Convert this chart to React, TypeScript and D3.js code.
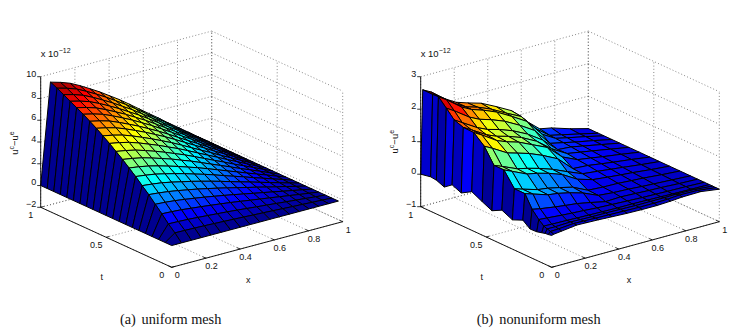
import React from 'react';
import * as d3 from 'd3';

const xTicks = [0, 0.2, 0.4, 0.6, 0.8, 1];
const tTicks = [0, 0.5, 1];
const zTicksA = [-2, 0, 2, 4, 6, 8, 10];
const zTicksB = [-1, 0, 1, 2, 3];

const xA = [0,.057,.115,.172,.229,.287,.344,.401,.459,.516,.574,.631,.688,.746,.803,.86,.918,.975];
const tA = [0,.05,.1,.15,.2,.25,.3,.35,.4,.45,.5,.55,.6,.65,.7,.75,.8,.85,.9,.95,1];
const uA = [
  [0,0,0,0,0,0,0,0,0,0,0,0,0,0,0,0,0,0],
  [0,.65,.63,.61,.58,.54,.5,.46,.42,.37,.33,.28,.23,.18,.14,.09,.05,0],
  [0,1.2,1.17,1.13,1.07,1,.93,.86,.78,.69,.6,.52,.43,.34,.26,.17,.08,0],
  [0,1.85,1.8,1.74,1.64,1.54,1.43,1.32,1.2,1.07,.93,.8,.67,.53,.4,.26,.13,0],
  [0,2.45,2.39,2.3,2.18,2.04,1.9,1.74,1.58,1.41,1.23,1.05,.88,.7,.52,.35,.17,0],
  [0,3.06,2.97,2.86,2.71,2.54,2.37,2.17,1.97,1.76,1.53,1.31,1.1,.87,.65,.44,.21,0],
  [0,3.61,3.51,3.39,3.21,3,2.8,2.57,2.33,2.08,1.81,1.55,1.3,1.03,.77,.51,.25,0],
  [0,4.17,4.05,3.91,3.7,3.47,3.23,2.96,2.69,2.4,2.09,1.79,1.5,1.18,.89,.59,.29,0],
  [0,4.68,4.55,4.38,4.15,3.89,3.62,3.32,3.02,2.69,2.35,2.01,1.68,1.33,1,.67,.33,0],
  [0,5.19,5.04,4.86,4.6,4.31,4.02,3.68,3.35,2.98,2.6,2.23,1.86,1.47,1.11,.74,.36,0],
  [0,5.65,5.49,5.29,5.01,4.7,4.37,4.01,3.65,3.25,2.84,2.43,2.03,1.6,1.21,.81,.4,0],
  [0,6.11,5.94,5.73,5.43,5.08,4.73,4.34,3.95,3.52,3.07,2.63,2.2,1.74,1.31,.87,.43,0],
  [0,6.53,6.35,6.12,5.8,5.43,5.05,4.64,4.22,3.76,3.28,2.81,2.35,1.85,1.4,.93,.46,0],
  [0,6.95,6.75,6.51,6.17,5.78,5.38,4.94,4.49,4,3.49,2.99,2.5,1.97,1.49,.99,.49,0],
  [0,7.32,7.11,6.86,6.49,6.08,5.66,5.2,4.72,4.21,3.67,3.14,2.63,2.08,1.56,1.04,.51,0],
  [0,7.69,7.47,7.2,6.82,6.39,5.95,5.46,4.96,4.42,3.86,3.3,2.76,2.18,1.64,1.1,.54,0],
  [0,8.01,7.79,7.51,7.11,6.66,6.2,5.69,5.17,4.61,4.02,3.44,2.88,2.27,1.71,1.14,.56,0],
  [0,8.33,8.1,7.81,7.4,6.93,6.45,5.92,5.38,4.8,4.19,3.58,3,2.37,1.78,1.19,.59,0],
  [0,8.66,8.42,8.12,7.69,7.2,6.7,6.15,5.59,4.98,4.35,3.72,3.11,2.46,1.85,1.23,.61,0],
  [0,8.98,8.73,8.42,7.97,7.47,6.95,6.38,5.8,5.17,4.51,3.86,3.23,2.55,1.92,1.28,.63,0],
  [0,9.26,9,8.68,8.22,7.7,7.17,6.58,5.98,5.33,4.65,3.98,3.33,2.63,1.98,1.32,.65,0],
];

const xB = [0,.012,.06,.15,.21,.28,.36,.45,.54,.63,.71,.78,.89,1];
const tB = [0,.025,.05,.076,.114,.165,.22,.3,.38,.456,.53,.61,.69,.76,.82,.88,.924,1];
const uB = [
  [-.02,0,.03,.09,.08,.07,.05,.03,.02,.02,.04,.07,.08,0],
  [-.04,.04,.05,.09,.08,.07,.06,.05,.04,.04,.05,.08,.07,0],
  [-.05,.07,.07,.09,.08,.07,.07,.06,.05,.05,.05,.06,.05,0],
  [-.08,.11,.1,.09,.08,.07,.06,.05,.05,.04,.03,.02,.01,0],
  [-.12,.24,.22,.18,.16,.14,.11,.09,.07,.05,.04,.03,.02,0],
  [-.13,.46,.41,.34,.3,.26,.18,.08,.1,.08,.06,.05,.02,0],
  [.04,.84,.76,.61,.57,.49,.37,.17,.13,.11,.08,.06,.03,0],
  [-.1,.84,.76,.62,.58,.5,.4,.18,.15,.14,.11,.09,.04,0],
  [.05,1.27,1.16,.95,.89,.79,.64,.37,.23,.18,.14,.11,.05,0],
  [-.11,1.27,1.17,.97,.9,.8,.66,.46,.27,.22,.17,.13,.06,0],
  [.03,1.72,1.59,1.32,1.23,1.12,.95,.72,.29,.26,.2,.15,.08,0],
  [.19,1.99,1.85,1.55,1.43,1.32,1.13,.92,.5,.29,.23,.17,.09,0],
  [0,2,1.86,1.58,1.45,1.35,1.2,.96,.6,.33,.26,.2,.1,0],
  [.12,2.1,1.95,1.67,1.53,1.43,1.28,1.05,.74,.32,.29,.22,.11,0],
  [-.06,2.35,2.2,1.88,1.73,1.62,1.46,1.21,.92,.4,.31,.23,.12,0],
  [.04,2.59,2.43,2.08,1.92,1.8,1.63,1.37,1.09,.57,.33,.25,.13,0],
  [.06,2.58,2.43,2.09,1.92,1.81,1.64,1.39,1.16,.65,.34,.26,.13,0],
  [0,2.58,2.45,2.1,1.92,1.8,1.68,1.45,1.2,.75,.4,.33,.15,0],
];

const jetStops = [0, 0.125, 0.375, 0.625, 0.875, 1];
const jetColors = ['#000090', '#0000ff', '#00ffff', '#ffff00', '#ff0000', '#800000'];
const sans = '"Liberation Sans", Arial, sans-serif';
const serif = '"Liberation Serif", "Times New Roman", serif';

type PanelProps = {
  xs: number[]; ts: number[]; u: number[][]; zTicks: number[];
  origin: [number, number]; xVec: [number, number]; tVec: [number, number]; zPx: number;
  zTitle: [number, number]; xTitle: [number, number]; tTitle: [number, number];
};

function Panel(p: PanelProps) {
  const zMin = p.zTicks[0];
  const zMax = p.zTicks[p.zTicks.length - 1];
  const sxx = d3.scaleLinear().domain([0, 1]).range([0, p.xVec[0]]);
  const sxy = d3.scaleLinear().domain([0, 1]).range([0, p.xVec[1]]);
  const stx = d3.scaleLinear().domain([0, 1]).range([0, p.tVec[0]]);
  const sty = d3.scaleLinear().domain([0, 1]).range([0, p.tVec[1]]);
  const sz = d3.scaleLinear().domain([zMin, zMax]).range([0, -p.zPx]);
  const P = (x: number, t: number, z: number): [number, number] => [
    p.origin[0] + sxx(x) + stx(t),
    p.origin[1] + sxy(x) + sty(t) + sz(z),
  ];
  const seg = (a: [number, number], b: [number, number]) => `M${a[0]},${a[1]}L${b[0]},${b[1]}`;
  const [uMin, uMax] = d3.extent(p.u.flat()) as [number, number];
  const norm = d3.scaleLinear().domain([uMin, uMax]).range([0, 1]);
  const jet = d3.scaleLinear<string>().domain(jetStops).range(jetColors).interpolate(d3.interpolateRgb).clamp(true);

  const grid: string[] = [];
  p.zTicks.forEach((z) => {
    grid.push(seg(P(0, 1, z), P(1, 1, z)));
    grid.push(seg(P(1, 1, z), P(1, 0, z)));
  });
  xTicks.forEach((x) => {
    grid.push(seg(P(x, 1, zMin), P(x, 1, zMax)));
    grid.push(seg(P(x, 0, zMin), P(x, 1, zMin)));
  });
  tTicks.forEach((t) => {
    grid.push(seg(P(1, t, zMin), P(1, t, zMax)));
    grid.push(seg(P(0, t, zMin), P(1, t, zMin)));
  });

  const quads: React.ReactNode[] = [];
  for (let i = p.ts.length - 2; i >= 0; i--) {
    for (let j = p.xs.length - 2; j >= 0; j--) {
      const pts = [
        P(p.xs[j], p.ts[i], p.u[i][j]),
        P(p.xs[j + 1], p.ts[i], p.u[i][j + 1]),
        P(p.xs[j + 1], p.ts[i + 1], p.u[i + 1][j + 1]),
        P(p.xs[j], p.ts[i + 1], p.u[i + 1][j]),
      ];
      quads.push(
        <path key={`${i}-${j}`} d={d3.line()(pts) + 'Z'} fill={jet(norm(p.u[i][j]))} stroke="#000" strokeWidth={1} strokeLinejoin="round" />
      );
    }
  }

  const corner = P(0, 1, zMin);
  const label = { fontFamily: sans, fontSize: 9, fill: '#111' };
  const minus = (n: number) => (n < 0 ? `−${-n}` : `${n}`);
  return (
    <g>
      <path d={grid.join('')} fill="none" stroke="#555" strokeWidth={0.7} strokeDasharray="1 2.2" />
      {quads}
      <path d={seg(P(0, 1, zMin), P(0, 1, zMax)) + seg(P(0, 0, zMin), P(1, 0, zMin)) + seg(P(0, 0, zMin), P(0, 1, zMin))} stroke="#000" strokeWidth={0.9} fill="none" />
      {p.zTicks.map((z) => {
        const q = P(0, 1, z);
        return (
          <g key={z}>
            <path d={`M${q[0]},${q[1]}h-3.5`} stroke="#000" strokeWidth={0.8} />
            <text x={q[0] - 4.5} y={q[1] - 2.5} textAnchor="end" dominantBaseline="middle" {...label}>{minus(z)}</text>
          </g>
        );
      })}
      {xTicks.map((x) => {
        const q = P(x, 0, zMin);
        return (
          <g key={x}>
            <path d={seg(q, [q[0] - 3, q[1] - 1.4])} stroke="#000" strokeWidth={0.8} />
            <text x={q[0] + 5.5} y={q[1] + 8.5} textAnchor="middle" dominantBaseline="middle" {...label}>{x}</text>
          </g>
        );
      })}
      {tTicks.map((t) => {
        const q = P(0, t, zMin);
        return (
          <g key={t}>
            <path d={seg(q, [q[0] + 3, q[1] - 0.8])} stroke="#000" strokeWidth={0.8} />
            <text x={q[0] - 10} y={q[1] + 8.7} textAnchor="middle" dominantBaseline="middle" {...label}>{t}</text>
          </g>
        );
      })}
      <text x={p.xTitle[0]} y={p.xTitle[1]} textAnchor="middle" dominantBaseline="middle" {...label}>x</text>
      <text x={p.tTitle[0]} y={p.tTitle[1]} textAnchor="middle" dominantBaseline="middle" {...label}>t</text>
      <text transform={`translate(${p.zTitle[0]},${p.zTitle[1]}) rotate(-90)`} textAnchor="middle" dominantBaseline="middle" {...label} fontSize={9.5}>
        u<tspan dy={-3} fontSize={7}>c</tspan><tspan dy={3}>−u</tspan><tspan dy={-3} fontSize={7}>e</tspan>
      </text>
      <text x={corner[0]} y={57} {...label} fontSize={9.5}>
        x 10<tspan dy={-4} fontSize={7}>−12</tspan>
      </text>
    </g>
  );
}

export default function App() {
  return (
    <svg width={752} height={334} style={{ position: 'fixed', left: 0, top: 0, display: 'block', background: '#fff' }}>
      <Panel xs={xA} ts={tA} u={uA} zTicks={zTicksA}
        origin={[171.7, 267.3]} xVec={[171, -45.6]} tVec={[-131, -60]} zPx={130.6}
        zTitle={[15, 143]} xTitle={[248.3, 280.7]} tTitle={[101.7, 277.7]} />
      <Panel xs={xB} ts={tB} u={uB} zTicks={zTicksB}
        origin={[551.7, 267.3]} xVec={[167.6, -45.6]} tVec={[-131, -60.6]} zPx={130}
        zTitle={[395, 141.7]} xTitle={[629, 280.7]} tTitle={[481.7, 277.7]} />
      <g fontFamily={serif} fontSize={14.3} fill="#111">
        <text x={120} y={324}>(a)</text>
        <text x={141.5} y={324}>uniform mesh</text>
        <text x={476.7} y={324}>(b)</text>
        <text x={499.3} y={324}>nonuniform mesh</text>
      </g>
    </svg>
  );
}
